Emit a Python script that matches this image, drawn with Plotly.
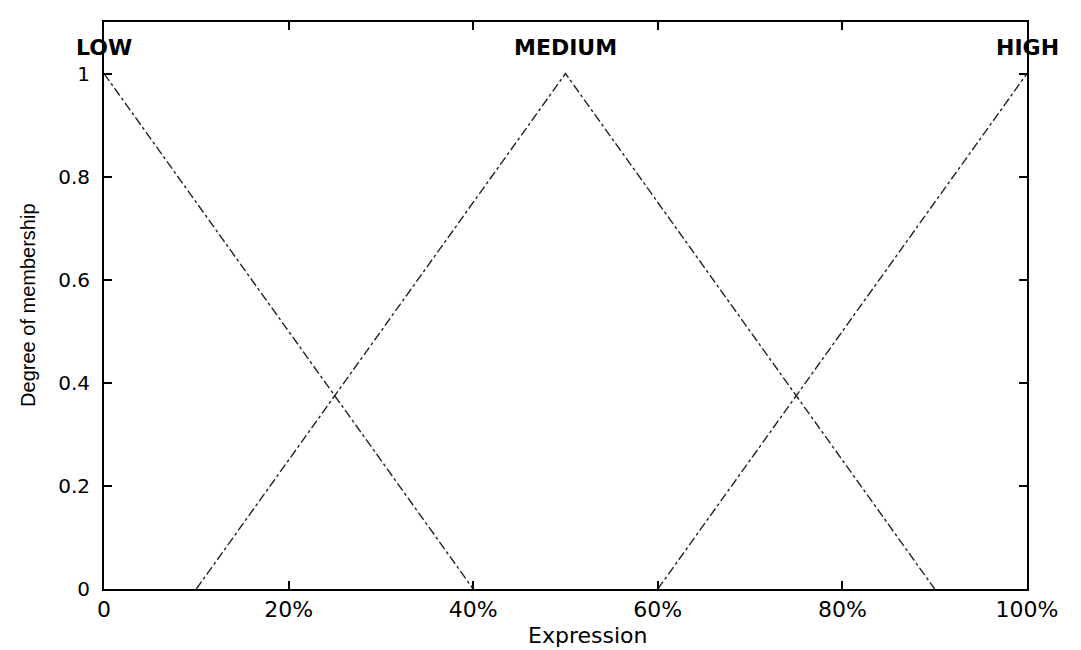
import plotly.graph_objects as go

# Membership functions (x in % expression, y = degree of membership)
low_x = [0, 40]
low_y = [1, 0]
med_x = [10, 50, 90]
med_y = [0, 1, 0]
high_x = [60, 100]
high_y = [0, 1]

set_names = ["LOW", "MEDIUM", "HIGH"]
set_peaks = [0, 50, 100]

x_tickvals = [0, 20, 40, 60, 80, 100]
x_ticktext = ["0", "20%", "40%", "60%", "80%", "100%"]
y_tickvals = [0, 0.2, 0.4, 0.6, 0.8, 1]
y_ticktext = ["0", "0.2", "0.4", "0.6", "0.8", "1"]

line_style = dict(color="#222222", width=1.4, dash="dashdot")

fig = go.Figure()
for xs, ys, nm in [(low_x, low_y, "LOW"), (med_x, med_y, "MEDIUM"), (high_x, high_y, "HIGH")]:
    fig.add_trace(go.Scatter(x=xs, y=ys, mode="lines", line=line_style,
                             name=nm, showlegend=False, cliponaxis=False))

for nm, px in zip(set_names, set_peaks):
    fig.add_annotation(x=px, y=1.05, xref="x", yref="y", text=nm, showarrow=False,
                       xanchor="center", yanchor="middle",
                       font=dict(family="DejaVu Sans", size=22, color="black", weight="bold"))

fig.add_annotation(x=0.524, y=-0.082, xref="paper", yref="paper", text="Expression",
                   showarrow=False, xanchor="center", yanchor="middle",
                   font=dict(family="DejaVu Sans", size=22, color="black"))
fig.add_annotation(x=-0.083, y=0.5, xref="paper", yref="paper", text="Degree of membership",
                   showarrow=False, textangle=-90, xanchor="center", yanchor="middle",
                   font=dict(family="Liberation Sans", size=20, color="black"))

axis_common = dict(showgrid=False, zeroline=False, showline=True, linecolor="black",
                   linewidth=2, mirror="ticks", ticks="inside", ticklen=8,
                   tickwidth=1.5, tickcolor="black")

fig.update_xaxes(range=[0, 100], tickvals=x_tickvals, ticktext=x_ticktext,
                 tickfont=dict(family="DejaVu Sans", size=22, color="black"),
                 ticklabelstandoff=0, **axis_common)
fig.update_yaxes(range=[0, 1.1], tickvals=y_tickvals, ticktext=y_ticktext,
                 tickfont=dict(family="DejaVu Sans", size=20, color="black"),
                 ticklabelstandoff=8, **axis_common)

fig.update_layout(width=1081, height=650, plot_bgcolor="white", paper_bgcolor="white",
                  margin=dict(l=96, r=62, t=12, b=69), showlegend=False)

fig.write_html("out.html")
